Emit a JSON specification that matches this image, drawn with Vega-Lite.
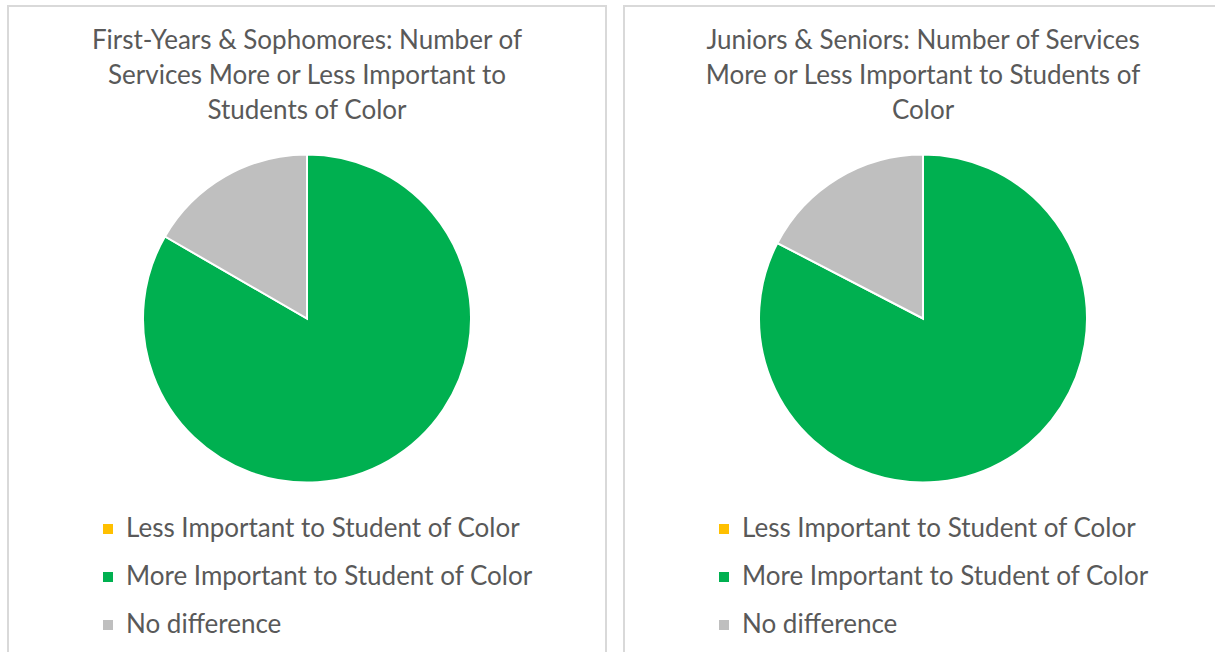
{
  "$schema": "https://vega.github.io/schema/vega-lite/v6.json",
  "padding": {"left": 7, "top": 5, "right": 0, "bottom": 0},
  "background": "white",
  "spacing": 16,
  "datasets": {
    "fy": [
      {"category": "Less Important to Student of Color", "count": 0},
      {"category": "More Important to Student of Color", "count": 25},
      {"category": "No difference", "count": 5}
    ],
    "js": [
      {"category": "Less Important to Student of Color", "count": 0},
      {"category": "More Important to Student of Color", "count": 19},
      {"category": "No difference", "count": 4}
    ]
  },
  "config": {
    "view": {"stroke": "#D9D9D9", "strokeWidth": 2},
    "font": "Lato",
    "title": {"font": "Lato", "fontSize": 26, "fontWeight": "normal", "color": "#595959", "lineHeight": 35, "anchor": "middle", "frame": "group"},
    "legend": {"labelFont": "Lato", "labelFontSize": 26, "labelColor": "#595959", "symbolType": "square", "symbolSize": 100, "symbolStrokeWidth": 0, "rowPadding": 22, "labelOffset": 5, "labelLimit": 500, "padding": 0}
  },
  "resolve": {"scale": {"color": "independent"}, "legend": {"color": "independent"}},
  "hconcat": [
    {
      "width": 598,
      "height": 648,
      "view": {"stroke": "#D9D9D9", "strokeWidth": 2, "fill": "white"},
      "title": {"text": ["First-Years & Sophomores: Number of", "Services More or Less Important to", "Students of Color"], "offset": -118},
      "data": {"name": "fy"},
      "mark": {"type": "arc", "radius": 164, "stroke": "white", "strokeWidth": 2, "yOffset": -11.5},
      "encoding": {
        "theta": {"field": "count", "type": "quantitative", "stack": true},
        "color": {
          "field": "category", "type": "nominal",
          "scale": {"domain": ["Less Important to Student of Color", "More Important to Student of Color", "No difference"], "range": ["#FFC000", "#00B050", "#BFBFBF"]},
          "legend": {"title": null, "orient": "none", "legendX": 87, "legendY": 510}
        },
        "order": {"field": "category", "type": "nominal"}
      }
    },
    {
      "width": 598,
      "height": 648,
      "view": {"stroke": "#D9D9D9", "strokeWidth": 2, "fill": "white"},
      "title": {"text": ["Juniors & Seniors: Number of Services", "More or Less Important to Students of", "Color"], "offset": -118},
      "data": {"name": "js"},
      "mark": {"type": "arc", "radius": 164, "stroke": "white", "strokeWidth": 2, "yOffset": -11.5},
      "encoding": {
        "theta": {"field": "count", "type": "quantitative", "stack": true},
        "color": {
          "field": "category", "type": "nominal",
          "scale": {"domain": ["Less Important to Student of Color", "More Important to Student of Color", "No difference"], "range": ["#FFC000", "#00B050", "#BFBFBF"]},
          "legend": {"title": null, "orient": "none", "legendX": 87, "legendY": 510}
        },
        "order": {"field": "category", "type": "nominal"}
      }
    }
  ]
}
